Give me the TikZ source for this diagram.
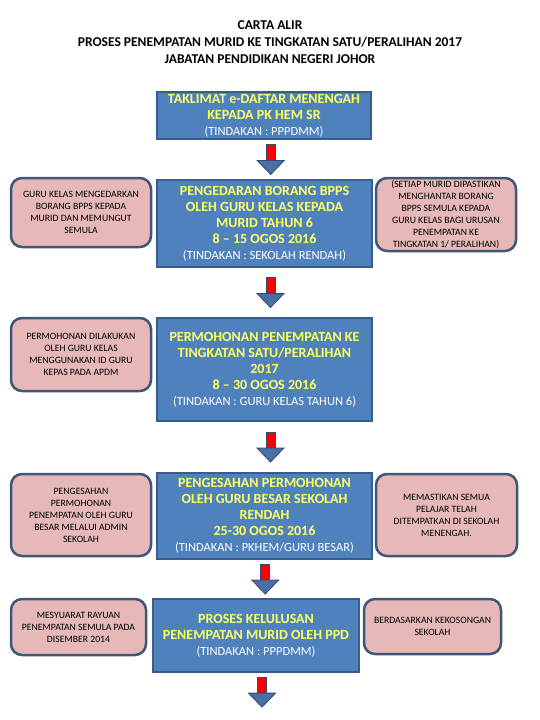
\documentclass[tikz,border=0pt]{standalone}
\usepackage{fontspec}
\setmainfont{Carlito}
\usetikzlibrary{calc}
\definecolor{boxblue}{HTML}{4F81BD}
\definecolor{boxedge}{HTML}{385D8A}
\definecolor{pinkfill}{HTML}{E6B9B8}
\definecolor{pinkedge}{HTML}{3F5678}
\definecolor{txtyellow}{HTML}{FFFF66}
\definecolor{headblue}{HTML}{4A6FA5}
\definecolor{arrowedge}{HTML}{2F4B74}
\definecolor{shaftred}{HTML}{FF0000}
\newcommand\tindakan[1]{{\fontsize{12.5}{16}\selectfont\mdseries\color{white}#1}}
\newcommand\blockarrow[3]{%
  \filldraw[shaftred, draw=arrowedge, line width=0.8pt]
    let \p3=($#1!0.5!#2$) in
    (\x3+#3-4.5pt,\y3+15pt) rectangle (\x3+#3+4.5pt,\y3-1pt);
  \filldraw[headblue, draw=arrowedge, line width=0.8pt]
    let \p3=($#1!0.5!#2$) in
    (\x3+#3-13.5pt,\y3-1pt) -- (\x3+#3+13.5pt,\y3-1pt) -- (\x3+#3,\y3-15pt) -- cycle;
}
\begin{document}
\begin{tikzpicture}[x=1pt,y=-1pt,
  bluebox/.style={draw=boxedge, line width=2.5pt, fill=boxblue, align=center,
    inner sep=0pt, text=txtyellow, font=\fontsize{14}{16}\selectfont\bfseries},
  pinkbox/.style={draw=pinkedge, line width=2.5pt, fill=pinkfill, align=center,
    rounded corners=11pt, inner sep=0pt, text=black, font=\fontsize{9.7}{12}\selectfont},
  titlestyle/.style={align=center, inner sep=0pt, font=\fontsize{13.5}{17}\selectfont\bfseries}]
\useasboundingbox (0,0) rectangle (540,720);
\fill[white] (0,0) rectangle (540,720);

\node[titlestyle] (title) at (270,42.5) {CARTA ALIR\\PROSES PENEMPATAN MURID KE TINGKATAN SATU/PERALIHAN 2017\\JABATAN PENDIDIKAN NEGERI JOHOR};

\node[bluebox, minimum width=214pt, minimum height=47pt] (b1) at (264,115.5)
  {TAKLIMAT e-DAFTAR MENENGAH\\KEPADA PK HEM SR\\\tindakan{(TINDAKAN : PPPDMM)}};
\node[bluebox, minimum width=215pt, minimum height=87pt] (b2) at (264.5,223.5)
  {PENGEDARAN BORANG BPPS\\OLEH GURU KELAS KEPADA\\MURID TAHUN 6\\8 – 15 OGOS 2016\\\tindakan{(TINDAKAN : SEKOLAH RENDAH)}};
\node[bluebox, minimum width=215pt, minimum height=103pt] (b3) at (264.5,369.5)
  {PERMOHONAN PENEMPATAN KE\\TINGKATAN SATU/PERALIHAN\\2017\\8 – 30 OGOS 2016\\\tindakan{(TINDAKAN : GURU KELAS TAHUN 6)}};
\node[bluebox, minimum width=215pt, minimum height=86pt] (b4) at (264.5,516)
  {PENGESAHAN PERMOHONAN\\OLEH GURU BESAR SEKOLAH\\RENDAH\\25-30 OGOS 2016\\\tindakan{(TINDAKAN : PKHEM/GURU BESAR)}};
\node[bluebox, minimum width=206pt, minimum height=73pt] (b5) at (256,635.5)
  {PROSES KELULUSAN\\PENEMPATAN MURID OLEH PPD\\\tindakan{(TINDAKAN : PPPDMM)}};
\coordinate (fin) at (256,711);

\node[pinkbox, minimum width=140pt, minimum height=69pt] (l1) at (81,212.5)
  {GURU KELAS MENGEDARKAN\\BORANG BPPS KEPADA\\MURID DAN MEMUNGUT\\SEMULA};
\node[pinkbox, minimum width=140pt, minimum height=73pt] (r1) at (446,214.5)
  {(SETIAP MURID DIPASTIKAN\\MENGHANTAR BORANG\\BPPS SEMULA KEPADA\\GURU KELAS BAGI URUSAN\\PENEMPATAN KE\\TINGKATAN 1/ PERALIHAN)};
\node[pinkbox, minimum width=140pt, minimum height=73pt] (l2) at (81,354.5)
  {PERMOHONAN DILAKUKAN\\OLEH GURU KELAS\\MENGGUNAKAN ID GURU\\KEPAS PADA APDM};
\node[pinkbox, minimum width=140pt, minimum height=82pt] (l3) at (81,515)
  {PENGESAHAN\\PERMOHONAN\\PENEMPATAN OLEH GURU\\BESAR MELALUI ADMIN\\SEKOLAH};
\node[pinkbox, minimum width=141pt, minimum height=82pt] (r3) at (446.5,515)
  {MEMASTIKAN SEMUA\\PELAJAR TELAH\\DITEMPATKAN DI SEKOLAH\\MENENGAH.};
\node[pinkbox, minimum width=135pt, minimum height=56pt] (l5) at (78.5,627)
  {MESYUARAT RAYUAN\\PENEMPATAN SEMULA PADA\\DISEMBER 2014};
\node[pinkbox, minimum width=137pt, minimum height=55pt] (r5) at (432.5,626.5)
  {BERDASARKAN KEKOSONGAN\\SEKOLAH};

\blockarrow{(b1.south)}{(b2.north)}{6.5pt}
\blockarrow{(b2.south)}{(b3.north)}{6pt}
\blockarrow{(b3.south)}{(b4.north)}{6pt}
\blockarrow{(b4.south)}{(b5.north)}{5pt}
\blockarrow{(b5.south)}{(fin)}{6pt}
\end{tikzpicture}
\end{document}
